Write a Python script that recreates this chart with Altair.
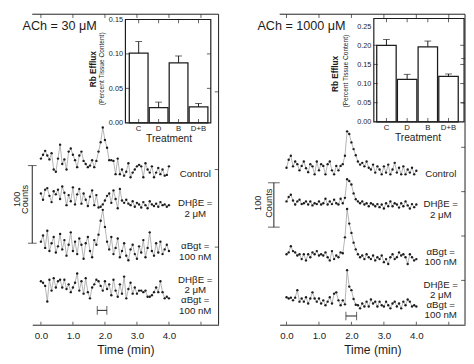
import altair as alt
import pandas as pd

# ---------------- data ----------------
sample_seconds = list(range(0, 241, 4))          # 4-s fractions, 0-4 min

treatments = ["C", "D", "B", "D+B"]

# ACh = 30 uM : counts relative to each trace's own baseline
ach30_control = [2, 7, 12, 6, 1, 9, -12, -15, 2, 20, -5, 1, -12, 11, 15, 7, 0, -9, 6, 11, -1, -5, -9, -7, 0, -9, -1,
                 11, 23, 42, 26, 16, 0, 0, -1, -18, 2,
                 -18, -12, -20, -15, -4, -22, -16, -12, -8, -6, -8, -22, -4, -12, -16, -8, -22, -16, -10, -18, -12, -20, -19, -8]
ach30_dhbe = [5, -3, 10, 12, 2, -6, 8, 4, 10, -2, 14, 6, -10, 3, -5, 13, -9, 4, 11, -8, 5, -3, -11, 1, 9, -10, 3, -13, -12, -9, -4,
              2, 5, -7, 9, -2, -14, 11, -4, -7, -3, -8, -10, -5, -12, -7, -9, -13, -6, -10, -14, -5, -9, -11, -8, -12, -6, -10, -9, -12, -10]
ach30_abgt = [6, 14, -2, 20, -6, 4, 12, -8, 0, 16, -4, 8, -12, 2, 18, -6, 6, -10, 10, 2, -16, 4, 12, -6, -14, 8, 2,
              15, 33, 47, 25, 6,
              -4, 12, -10, -2, 10, -14, -6, 4, -12, -18, -4, 2, -10, -16, 0, -8, 8, -14, -2, 18, -6, -12, 4, -8, 6, -10, -4, 2, -6]
ach30_both = [8, 6, 2, -18, 10, -4, 12, 0, 8, 10, 0, 10, -2, 4, -6, 0, 6, 18, -4, 8, -8, 12, -6, -14, 0, 4, 10, 8, 2, -4,
              8, -2, 4, -10, 10, -4, -12, 4, -8, 14, -14, -2, 6, -8, 0, -8, -4, -4, -6, -4, -12, -12, -10, -6, 0, -6, 8, -6,
              -14, -12, -14]
ach30_offsets = [212, 164, 101, 48]

# ACh = 1000 uM
ach1000_control = [-2, 16, 25, 1, 12, 6, -8, 2, 12, -3, -12, 6, 1, -17, 12, -8, 6, 2, -17, 6, 12, -8, -17, 2, -8, 2, 6,
                   25, 80, 74, 55, 40, 26, 12,
                   5, 9, 1, 12, -2, -6, 5, -13, 1, -6, -17, 1, -13, 5, -17, -6, 9, -13, -2, -17, 1, -17, -6, -13, -2, -17, -9]
ach1000_dhbe = [0, 10, 15, 2, -7, 0, 4, -6, -4, 0, -7, 0, -9, -4, -6, 0, -7, -4, 6, -7, 0, -6, 4, -4, -7, 6, -4,
                8, 50, 46, 38, 18, 5,
                0, -4, 0, -7, -4, -11, -4, -7, -11, -6, -13, -7, -16, -4, -11, 0, -11, -4, -7, -14, -4, -11, 0, -9, -16, -6, -13, -7]
ach1000_abgt = [2, 6, 20, 9, 6, -1, 2, -9, 2, -12, 2, -5, 6, 2, 9, -1, 2, -1, 6, -5, -12, 9, -9, -1, -5, 6, 4,
                40, 104, 71, 50, 28, 13, 2,
                -5, -1, -9, 2, -5, -9, -1, -12, -5, -9, -1, -16, -9, -20, -5, 2, -9, -5, 6, -1, 2, -5, -20, 2, -5, -12, -9]
ach1000_both = [6, 3, 5, -1, 5, 22, -4, 3, -4, 6, -8, 3, 17, 3, -4, 3, -8, -1, -12, -4, 6, -8, 14, 17, -1, -12, -1,
                -10, 67, 30, 22, 2, -11,
                -12, -19, -8, -15, -4, -15, 1, -8, -4, -15, -4, -12, -15, -4, -12, -19, -8, -4, -15, -8, -19, -4, -12, 1, -4, -15, -12, -15]
ach1000_offsets = [356, 278, 157, 56]

efflux30 = [0.101, 0.022, 0.087, 0.023]
sem30 = [0.017, 0.008, 0.010, 0.005]
efflux1000 = [0.200, 0.111, 0.196, 0.119]
sem1000 = [0.015, 0.013, 0.015, 0.006]

ach30_window = [1.76, 2.06]
ach1000_window = [1.83, 2.16]
scale_counts = 100

labels30 = ["Control", "DHβE =", "2 μM", "αBgt =", "100 nM", "DHβE =", "2 μM", "αBgt =", "100 nM"]
labels1000 = labels30

# ---------------- layout ----------------
INK = "#1c1c1c"
FONT = "Liberation Sans"
one = pd.DataFrame({"a": [0]})

geo30 = dict(W=192, H=320, xdom=[-0.27, 5.55], ymax=400, rticks=[100, 200, 300],
             lab_x=168, lab_y=[165, 194.5, 205.5, 239, 250, 274, 284.5, 295, 305.5],
             sb_x=0, sb_start=105, sb_cap=9, t100=-16, tcounts=-7, ttext_y=190.8,
             br_y=305.2, title_x=-10, title_y=12.3,
             box=[96, 184, 5.4, 111.9], bars=[100, 181], imax=0.15,
             ivals=[0.0, 0.05, 0.10, 0.15], rb=[63, 56.7], pc=[72, 56.2])
geo1000 = dict(W=191, H=320, xdom=[-0.21, 5.5], ymax=700, rticks=[100, 200, 300, 400, 500, 600],
               lab_x=166, lab_y=[165, 195.5, 206.5, 245, 255.5, 279, 289.5, 300, 310.5],
               sb_x=-6, sb_start=220, sb_cap=12, t100=-22, tcounts=-11, ttext_y=194.8,
               br_y=311, title_x=-23, title_y=12.3,
               box=[97, 190, 4.4, 110.9], bars=[100, 184], imax=0.27,
               ivals=[0.0, 0.05, 0.10, 0.15, 0.20, 0.25], rb=[57, 61.6], pc=[68, 58.7])


def panel(title, traces, offsets, labels, efflux, sem, window, g):
    W, H = g["W"], g["H"]
    x0, x1 = g["xdom"]
    ymax = g["ymax"]

    def t_of(px):
        return x0 + px * (x1 - x0) / W

    def c_of(py):
        return ymax * (1 - py / H)

    xs = alt.Scale(domain=[x0, x1], nice=False, zero=False)
    ys = alt.Scale(domain=[0, ymax], nice=False, zero=False)
    xaxis = alt.Axis(values=[0, 1, 2, 3, 4], format=".1f", ticks=False, grid=False,
                     domainColor=INK, domainWidth=1, labelFontSize=10, labelColor=INK,
                     labelPadding=6, title="Time (min)", titleFontSize=12.5,
                     titleFontWeight="normal", titleColor=INK, titlePadding=4)
    X = alt.X("t:Q", scale=xs, axis=xaxis)
    Y = alt.Y("c:Q", scale=ys, axis=None)

    rows = []
    for k, (vals, off) in enumerate(zip(traces, offsets)):
        for s, v in zip(sample_seconds, vals):
            rows.append({"t": s / 60, "c": v + off, "k": k})
    df = pd.DataFrame(rows)
    base = alt.Chart(df)
    line = base.mark_line(color="#9a9a9a", strokeWidth=0.75).encode(x=X, y=Y, detail="k:N")
    dots = base.mark_circle(size=6, color=INK, opacity=1).encode(x=X, y=Y)

    top = alt.Chart(one).mark_rule(color=INK, strokeWidth=1).encode(y=alt.value(0))
    right = alt.Chart(one).mark_rule(color=INK, strokeWidth=1).encode(x=alt.value(W))
    tdf = pd.DataFrame({"t": [0, 1, 2, 3, 4, 5]})
    tt = alt.Chart(tdf).mark_tick(orient="vertical", size=4, thickness=1, color=INK).encode(
        x=X, y=alt.value(2))
    bt = alt.Chart(tdf).mark_tick(orient="vertical", size=3, thickness=1, color=INK).encode(
        x=X, y=alt.value(H - 1.5))
    rt = alt.Chart(pd.DataFrame({"c": g["rticks"]})).mark_tick(
        orient="horizontal", size=4, thickness=1, color=INK).encode(y=Y, x=alt.value(W - 2))

    sbt = t_of(g["sb_x"])
    sb = pd.DataFrame({"t": [sbt], "c": [g["sb_start"]], "c2": [g["sb_start"] + scale_counts]})
    sbar = alt.Chart(sb).mark_rule(color=INK, strokeWidth=1).encode(x=X, y=Y, y2="c2:Q")
    sbc = alt.Chart(pd.DataFrame({"t": [sbt, sbt], "c": [g["sb_start"], g["sb_start"] + scale_counts]})).mark_tick(
        orient="horizontal", size=g["sb_cap"], thickness=1, color=INK).encode(x=X, y=Y)
    sbtxt = alt.Chart(pd.DataFrame({
        "t": [t_of(g["t100"]), t_of(g["tcounts"])],
        "c": [c_of(g["ttext_y"])] * 2,
        "text": [str(scale_counts), "Counts"]})).mark_text(
        angle=270, fontSize=9.5, color=INK, align="center", baseline="middle").encode(x=X, y=Y, text="text:N")

    br = pd.DataFrame({"t": [window[0]], "t2": [window[1]], "c": [c_of(g["br_y"])]})
    brule = alt.Chart(br).mark_rule(color=INK, strokeWidth=1).encode(x=X, x2="t2:Q", y=Y)
    bcaps = alt.Chart(pd.DataFrame({"t": window, "c": [c_of(g["br_y"])] * 2})).mark_tick(
        orient="vertical", size=9, thickness=1, color=INK).encode(x=X, y=Y)

    lab = pd.DataFrame({"t": [t_of(g["lab_x"])] * len(labels),
                        "c": [c_of(v) for v in g["lab_y"]], "text": labels})
    labt = alt.Chart(lab).mark_text(fontSize=10, color=INK, align="center", baseline="middle").encode(
        x=X, y=Y, text="text:N")
    ttl = alt.Chart(pd.DataFrame({"t": [t_of(g["title_x"])], "c": [c_of(g["title_y"])], "text": [title]})).mark_text(
        fontSize=13, color=INK, align="left", baseline="middle").encode(x=X, y=Y, text="text:N")

    main = alt.layer(line, dots, top, right, tt, bt, rt, sbar, sbc, sbtxt, brule, bcaps, labt, ttl)

    # ---- inset ----
    bx0, bx1, by0, by1 = g["box"]
    ins = pd.DataFrame({"cat": treatments, "val": efflux, "hi": [v + s for v, s in zip(efflux, sem)]})
    iys = alt.Scale(domain=[0, g["imax"]], range=[by1, by0], nice=False, zero=True)
    ixs = alt.Scale(domain=treatments, range=g["bars"], paddingInner=0.06, paddingOuter=0)
    ixaxis = alt.Axis(orient="bottom", offset=-(H - by1), domain=False, ticks=False, grid=False,
                      labelAngle=0, labelFontSize=8, labelPadding=2, labelColor=INK,
                      title="Treatment", titleFontSize=10.5, titleFontWeight="normal",
                      titleColor=INK, titlePadding=1)
    iyaxis = alt.Axis(orient="left", offset=-bx0, values=g["ivals"], format=".2f", domain=False,
                      ticks=False, grid=False, labelFontSize=7.5, labelPadding=3, labelColor=INK, title=None)
    IX = alt.X("cat:N", sort=treatments, scale=ixs, axis=ixaxis)
    IY = alt.Y("val:Q", scale=iys, axis=iyaxis)
    IYH = alt.Y("hi:Q", scale=iys, axis=iyaxis)

    bars = alt.Chart(ins).mark_bar(fill="white", stroke=INK, strokeWidth=1.3).encode(x=IX, y=IY)
    err = alt.Chart(ins).mark_rule(color=INK, strokeWidth=1).encode(x=IX, y=IY, y2="hi:Q")
    cap = alt.Chart(ins).mark_tick(orient="horizontal", size=7, thickness=1, color=INK).encode(x=IX, y=IYH)
    frame = alt.Chart(one).mark_rect(fillOpacity=0, stroke=INK, strokeWidth=1.2).encode(
        x=alt.value(bx0), x2=alt.value(bx1), y=alt.value(by0), y2=alt.value(by1))
    inner_vals = pd.DataFrame({"val": g["ivals"][1:-1]})
    lt = alt.Chart(inner_vals).mark_tick(orient="horizontal", size=4, thickness=1, color=INK).encode(
        y=IY, x=alt.value(bx0 + 2))
    rtk = alt.Chart(inner_vals).mark_tick(orient="horizontal", size=4, thickness=1, color=INK).encode(
        y=IY, x=alt.value(bx1 - 2))
    cats = pd.DataFrame({"cat": treatments})
    ttk = alt.Chart(cats).mark_tick(orient="vertical", size=4, thickness=1, color=INK).encode(
        x=IX, y=alt.value(by0 + 2))
    btk = alt.Chart(cats).mark_tick(orient="vertical", size=4, thickness=1, color=INK).encode(
        x=IX, y=alt.value(by1 - 2))
    rb = alt.Chart(one).mark_text(text="Rb Efflux", angle=270, fontSize=8.5, fontWeight="bold",
                                  color=INK, align="center", baseline="middle").encode(
        x=alt.value(g["rb"][0]), y=alt.value(g["rb"][1]))
    pc = alt.Chart(one).mark_text(text="(Percent Tissue Content)", angle=270, fontSize=6.8,
                                  color=INK, align="center", baseline="middle").encode(
        x=alt.value(g["pc"][0]), y=alt.value(g["pc"][1]))

    inset = alt.layer(bars, err, cap, frame, lt, rtk, ttk, btk, rb, pc)

    return alt.layer(main, inset).resolve_scale(x="independent", y="independent").properties(
        width=W, height=H)


left = panel("ACh = 30 μM",
             [ach30_control, ach30_dhbe, ach30_abgt, ach30_both], ach30_offsets, labels30,
             efflux30, sem30, ach30_window, geo30)
right = panel("ACh = 1000 μM",
              [ach1000_control, ach1000_dhbe, ach1000_abgt, ach1000_both], ach1000_offsets, labels1000,
              efflux1000, sem1000, ach1000_window, geo1000)

chart = alt.hconcat(left, right, spacing=63, bounds="flush",
                    padding={"left": 4, "top": 0, "right": 0, "bottom": 0}).configure(
    font=FONT).configure_view(stroke=None)

chart.save("out.html", embed_options={"renderer": "svg", "actions": False})
